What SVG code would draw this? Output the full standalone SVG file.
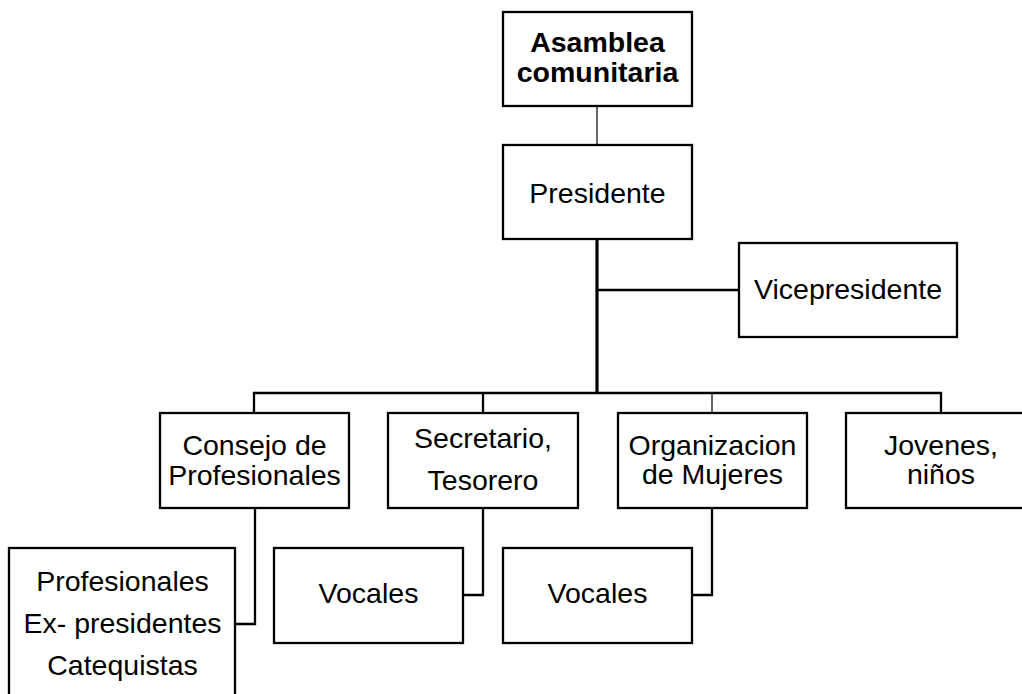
<svg xmlns="http://www.w3.org/2000/svg" width="1022" height="694" viewBox="0 0 1022 694">
<style>
.box{fill:#fff;stroke:#000;stroke-width:2.3}
.t{font-family:"Liberation Sans",Arial,sans-serif;font-size:28.5px;fill:#000;text-anchor:middle}
.b{font-weight:bold}
.c{fill:none;stroke:#000;stroke-width:2.3}
.thin{fill:none;stroke:#000;stroke-width:1.2}
.thick{fill:none;stroke:#000;stroke-width:3.2}
</style>
<rect width="1022" height="694" fill="#fff"/>
<g id="connectors">
<line class="thin" x1="597" y1="106" x2="597" y2="145"/>
<line class="thick" x1="597" y1="239" x2="597" y2="394"/>
<line class="c" x1="597" y1="290" x2="739" y2="290"/>
<polyline class="c" points="254,413 254,393 941,393 941,413"/>
<line class="c" x1="483" y1="393" x2="483" y2="413"/>
<line class="thin" x1="712" y1="393" x2="712" y2="413"/>
<polyline class="c" points="255,508 255,624 235,624"/>
<polyline class="c" points="483,508 483,595 463,595"/>
<polyline class="c" points="712,508 712,595 692,595"/>
</g>
<g id="asamblea">
<rect class="box" x="503" y="12" width="189" height="94"/>
<text class="t b" x="597.5" y="52">Asamblea</text>
<text class="t b" x="597.5" y="82">comunitaria</text>
</g>
<g id="presidente">
<rect class="box" x="503" y="145" width="189" height="94"/>
<text class="t" x="597.5" y="203">Presidente</text>
</g>
<g id="vicepresidente">
<rect class="box" x="739" y="243" width="218" height="94"/>
<text class="t" x="848" y="299">Vicepresidente</text>
</g>
<g id="consejo">
<rect class="box" x="160" y="413" width="189" height="95"/>
<text class="t" x="254.5" y="455">Consejo de</text>
<text class="t" x="254.5" y="485">Profesionales</text>
</g>
<g id="secretario">
<rect class="box" x="388" y="413" width="190" height="95"/>
<text class="t" x="483" y="448">Secretario,</text>
<text class="t" x="483" y="490">Tesorero</text>
</g>
<g id="organizacion">
<rect class="box" x="618" y="413" width="189" height="95"/>
<text class="t" x="712.5" y="455">Organizacion</text>
<text class="t" x="712.5" y="484">de Mujeres</text>
</g>
<g id="jovenes">
<rect class="box" x="846" y="413" width="190" height="95"/>
<text class="t" x="941" y="455">Jovenes,</text>
<text class="t" x="941" y="484">niños</text>
</g>
<g id="profesionales">
<rect class="box" x="9" y="548" width="226" height="160"/>
<text class="t" x="122.5" y="591">Profesionales</text>
<text class="t" x="122.5" y="633">Ex- presidentes</text>
<text class="t" x="122.5" y="675">Catequistas</text>
</g>
<g id="vocales1">
<rect class="box" x="274" y="548" width="189" height="95"/>
<text class="t" x="368.5" y="603">Vocales</text>
</g>
<g id="vocales2">
<rect class="box" x="503" y="548" width="189" height="95"/>
<text class="t" x="597.5" y="603">Vocales</text>
</g>
</svg>
